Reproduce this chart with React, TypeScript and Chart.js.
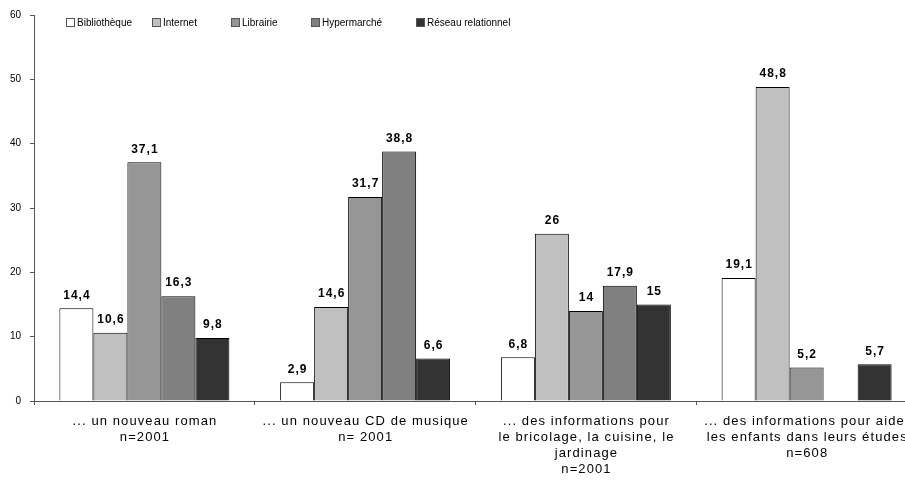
import React, { useEffect, useRef } from "react";
import { Chart, registerables } from "chart.js";

Chart.register(...registerables);

const categories: string[][] = [
  ["... un nouveau roman", "n=2001"],
  ["... un nouveau CD de musique", "n= 2001"],
  ["... des informations pour", "le bricolage, la cuisine, le", "jardinage", "n=2001"],
  ["... des informations pour aider", "les enfants dans leurs études", "n=608"],
];

const seriesNames = ["Bibliothèque", "Internet", "Librairie", "Hypermarché", "Réseau relationnel"];
const bibliotheque = [14.4, 2.9, 6.8, 19.1];
const internet = [10.6, 14.6, 26, 48.8];
const librairie = [37.1, 31.7, 14, 5.2];
const hypermarche = [16.3, 38.8, 17.9, null];
const reseau = [9.8, 6.6, 15, 5.7];
const seriesColors = ["#FFFFFF", "#C0C0C0", "#969696", "#808080", "#333333"];

const yTicks = [0, 10, 20, 30, 40, 50, 60];

const FONT = "'Liberation Sans', Arial, sans-serif";

// Numeric value above each bar, French decimal comma
const valueLabels = {
  id: "valueLabels",
  afterDatasetsDraw(chart: any) {
    const ctx = chart.ctx;
    ctx.save();
    ctx.font = `bold 12px ${FONT}`;
    (ctx as any).letterSpacing = "1px";
    ctx.fillStyle = "#000";
    ctx.textAlign = "center";
    ctx.textBaseline = "middle";
    chart.data.datasets.forEach((ds: any, i: number) => {
      const meta = chart.getDatasetMeta(i);
      meta.data.forEach((el: any, j: number) => {
        const v = ds.data[j];
        if (v === null || v === undefined) return;
        const txt = String(v).replace(".", ",");
        ctx.fillText(txt, el.x + 0.5, el.y - 13);
      });
    });
    ctx.restore();
  },
};

// Multi-line category captions under the x axis
const categoryCaptions = {
  id: "categoryCaptions",
  afterDraw(chart: any) {
    const ctx = chart.ctx;
    const xScale = chart.scales.x;
    ctx.save();
    ctx.font = `13px ${FONT}`;
    (ctx as any).letterSpacing = "1.1px";
    ctx.fillStyle = "#000";
    ctx.textAlign = "center";
    ctx.textBaseline = "middle";
    categories.forEach((lines, i) => {
      const cx = xScale.getPixelForValue(i) + 0.6;
      lines.forEach((line, k) => {
        ctx.fillText(line, cx, chart.chartArea.bottom + 20 + 16 * k);
      });
    });
    ctx.restore();
  },
};

const legendXs = [66, 152, 231, 311, 416];

// Legend placed inside the plot, along the top
const insetLegend = {
  id: "insetLegend",
  afterDraw(chart: any) {
    const ctx = chart.ctx;
    ctx.save();
    ctx.font = `10px ${FONT}`;
    ctx.textBaseline = "middle";
    ctx.textAlign = "left";
    const y = 22;
    chart.data.datasets.forEach((ds: any, i: number) => {
      const x = legendXs[i];
      ctx.fillStyle = ds.backgroundColor;
      ctx.fillRect(x, y - 4, 8, 8);
      ctx.strokeStyle = "#555";
      ctx.lineWidth = 1;
      ctx.strokeRect(x + 0.5, y - 3.5, 8, 8);
      ctx.fillStyle = "#000";
      ctx.fillText(ds.label, x + 11, y + 1);
    });
    ctx.restore();
  },
};

export default function App() {
  const ref = useRef<HTMLCanvasElement | null>(null);

  useEffect(() => {
    if (!ref.current) return;
    const series = [bibliotheque, internet, librairie, hypermarche, reseau];
    const chart = new Chart(ref.current, {
      type: "bar",
      data: {
        labels: categories.map((c) => c.join(" ")),
        datasets: series.map((d, i) => ({
          label: seriesNames[i],
          data: d,
          backgroundColor: seriesColors[i],
          borderColor: "#000",
          borderWidth: 1,
          barPercentage: 1,
          categoryPercentage: 0.77,
        })),
      },
      options: {
        responsive: false,
        animation: false,
        devicePixelRatio: 1,
        layout: { padding: { top: 14, right: 3, left: 0, bottom: 0 } },
        plugins: {
          legend: { display: false },
          tooltip: { enabled: false },
        },
        scales: {
          x: {
            afterFit(scale: any) {
              scale.height = 80;
            },
            grid: {
              offset: true,
              drawOnChartArea: false,
              drawTicks: true,
              tickLength: 4,
              color: "#555",
            },
            border: { color: "#555", width: 1 },
            ticks: {
              display: false,
              autoSkip: false,
            },
          },
          y: {
            min: 0,
            max: 60,
            afterFit(scale: any) {
              scale.width = 34;
            },
            afterBuildTicks(scale: any) {
              scale.ticks = yTicks.map((v) => ({ value: v }));
            },
            grid: {
              drawOnChartArea: false,
              tickLength: 4,
              color: "#555",
            },
            border: { color: "#555", width: 1 },
            ticks: {
              color: "#000",
              font: { family: FONT, size: 10 },
              padding: 9,
            },
          },
        },
      },
      plugins: [valueLabels, categoryCaptions, insetLegend],
    });
    return () => chart.destroy();
  }, []);

  return (
    <div
      style={{
        position: "absolute",
        left: 0,
        top: 0,
        width: 905,
        height: 481,
        overflow: "hidden",
        background: "#fff",
      }}
    >
      <canvas ref={ref} width={920} height={481} style={{ width: 920, height: 481 }} />
    </div>
  );
}
